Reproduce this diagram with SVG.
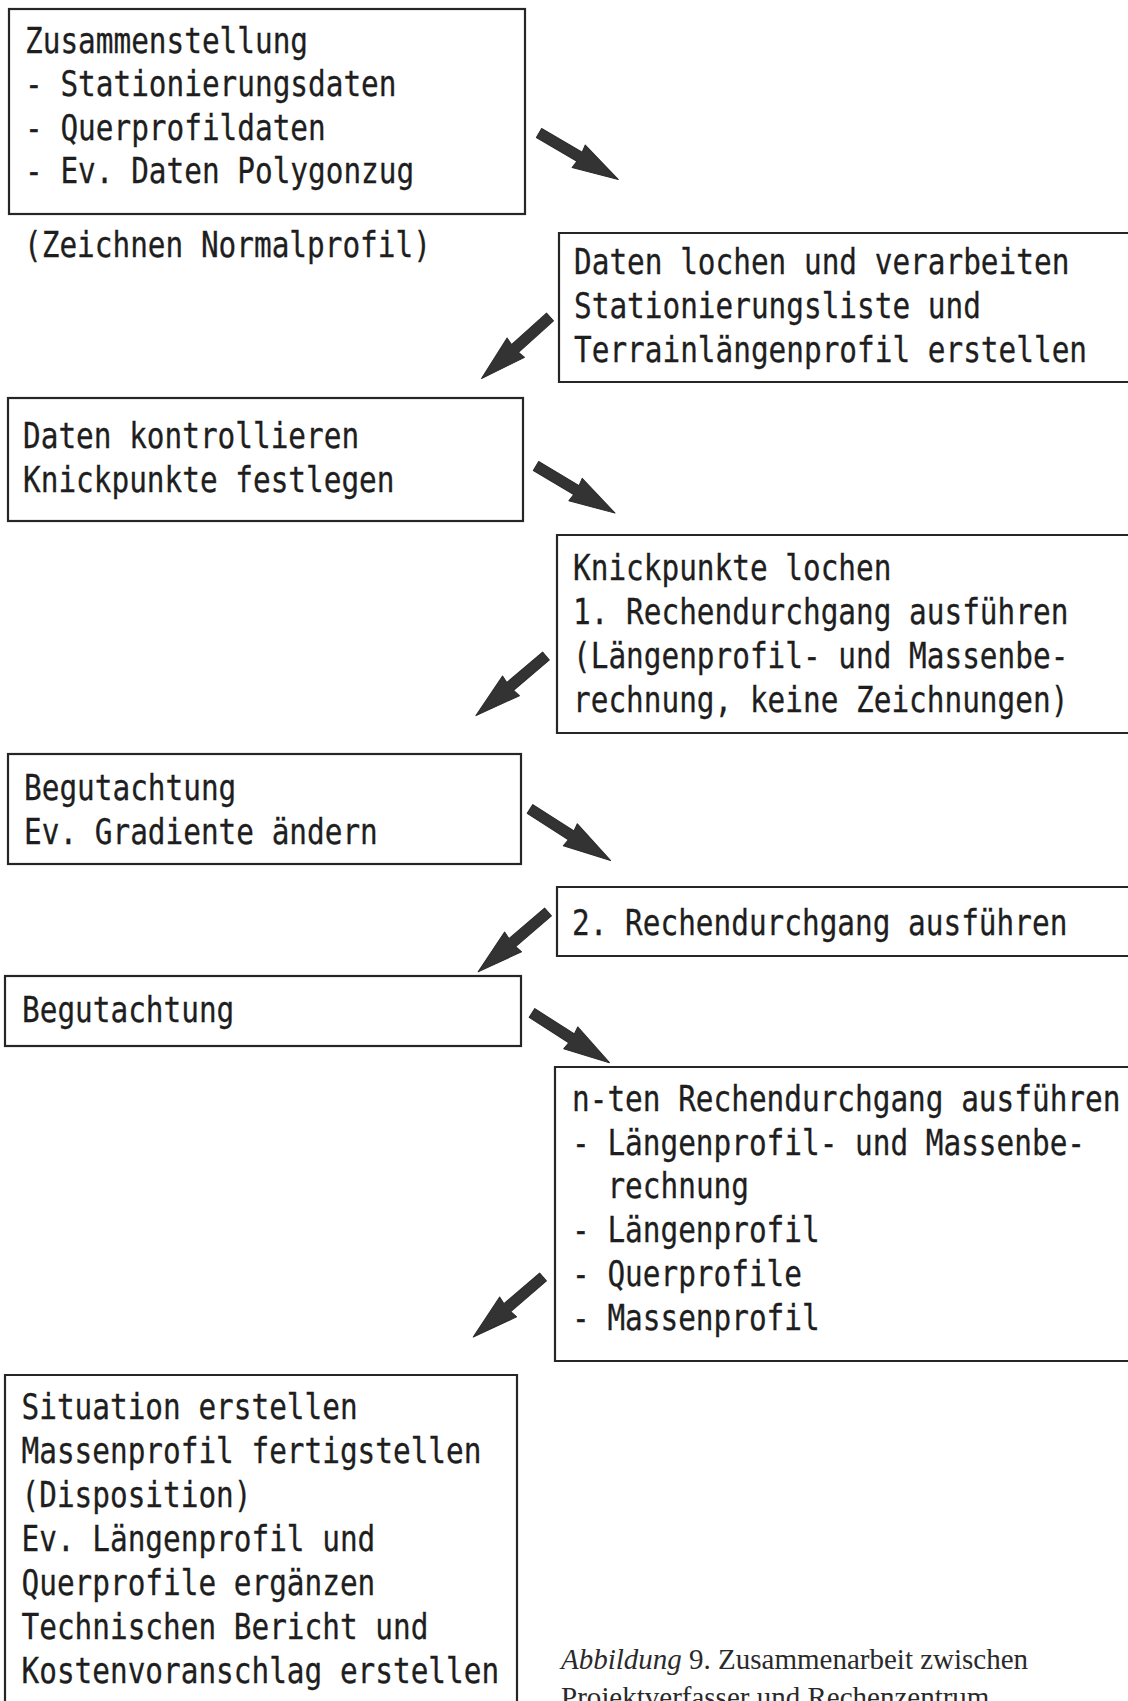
<svg xmlns="http://www.w3.org/2000/svg" width="1128" height="1701" viewBox="0 0 1128 1701">
<style>
  .box { fill: none; stroke: #262626; stroke-width: 2.2; }
  .t { font-family: "DejaVu Sans Mono", "Liberation Mono", monospace; font-size: 35.5px; fill: #1e1e1e; stroke: #1e1e1e; stroke-width: 0.3; }
  .cap { font-family: "Liberation Serif", "Times New Roman", serif; font-size: 29px; fill: #2a2a2a; }
  .arr { fill: #333333; stroke: #2a2a2a; stroke-width: 1; stroke-linejoin: round; }
</style>
<defs>
  <path id="arrow" class="arr" d="M0,-5.2 L47,-5.2 L46,-13 L92,0 L46,13 L47,5.2 L0,5.2 Z"/>
</defs>
<rect x="0" y="0" width="1128" height="1701" fill="#ffffff"/>

<g id="node1">
  <rect class="box" x="9" y="9" width="516" height="205"/>
  <g transform="translate(25,0) scale(0.828,1)">
    <text class="t" x="0" y="53">Zusammenstellung</text>
    <text class="t" x="0" y="96">- Stationierungsdaten</text>
    <text class="t" x="0" y="140">- Querprofildaten</text>
    <text class="t" x="0" y="183">- Ev. Daten Polygonzug</text>
  </g>
</g>
<g id="note1">
  <g transform="translate(24,0) scale(0.828,1)">
    <text class="t" x="0" y="257">(Zeichnen Normalprofil)</text>
  </g>
</g>

<g id="node2">
  <path class="box" d="M1128,233 H559 V382 H1128"/>
  <g transform="translate(574,0) scale(0.828,1)">
    <text class="t" x="0" y="274">Daten lochen und verarbeiten</text>
    <text class="t" x="0" y="318">Stationierungsliste und</text>
    <text class="t" x="0" y="362">Terrainlängenprofil erstellen</text>
  </g>
</g>

<g id="node3">
  <rect class="box" x="8" y="398" width="515" height="123"/>
  <g transform="translate(23,0) scale(0.828,1)">
    <text class="t" x="0" y="448">Daten kontrollieren</text>
    <text class="t" x="0" y="492">Knickpunkte festlegen</text>
  </g>
</g>

<g id="node4">
  <path class="box" d="M1128,535 H557 V733 H1128"/>
  <g transform="translate(573,0) scale(0.828,1)">
    <text class="t" x="0" y="580">Knickpunkte lochen</text>
    <text class="t" x="0" y="624">1. Rechendurchgang ausführen</text>
    <text class="t" x="0" y="668">(Längenprofil- und Massenbe-</text>
    <text class="t" x="0" y="712">rechnung, keine Zeichnungen)</text>
  </g>
</g>

<g id="node5">
  <rect class="box" x="8" y="754" width="513" height="110"/>
  <g transform="translate(24,0) scale(0.828,1)">
    <text class="t" x="0" y="800">Begutachtung</text>
    <text class="t" x="0" y="844">Ev. Gradiente ändern</text>
  </g>
</g>

<g id="node6">
  <path class="box" d="M1128,887 H557 V956 H1128"/>
  <g transform="translate(572,0) scale(0.828,1)">
    <text class="t" x="0" y="935">2. Rechendurchgang ausführen</text>
  </g>
</g>

<g id="node7">
  <rect class="box" x="5" y="976" width="516" height="70"/>
  <g transform="translate(22,0) scale(0.828,1)">
    <text class="t" x="0" y="1022">Begutachtung</text>
  </g>
</g>

<g id="node8">
  <path class="box" d="M1128,1067 H555 V1361 H1128"/>
  <g transform="translate(572,0) scale(0.828,1)">
    <text class="t" x="0" y="1111">n-ten Rechendurchgang ausführen</text>
    <text class="t" x="0" y="1155">- Längenprofil- und Massenbe-</text>
    <text class="t" x="42.8" y="1198">rechnung</text>
    <text class="t" x="0" y="1242">- Längenprofil</text>
    <text class="t" x="0" y="1286">- Querprofile</text>
    <text class="t" x="0" y="1330">- Massenprofil</text>
  </g>
</g>

<g id="node9">
  <path class="box" d="M5,1701 V1375 H517 V1701"/>
  <g transform="translate(21.5,0) scale(0.828,1)">
    <text class="t" x="0" y="1419">Situation erstellen</text>
    <text class="t" x="0" y="1463">Massenprofil fertigstellen</text>
    <text class="t" x="0" y="1507">(Disposition)</text>
    <text class="t" x="0" y="1551">Ev. Längenprofil und</text>
    <text class="t" x="0" y="1595">Querprofile ergänzen</text>
    <text class="t" x="0" y="1639">Technischen Bericht und</text>
    <text class="t" x="0" y="1683">Kostenvoranschlag erstellen</text>
  </g>
</g>

<g id="caption">
  <text class="cap" x="561" y="1669"><tspan font-style="italic">Abbildung</tspan> 9. Zusammenarbeit zwischen</text>
  <text class="cap" x="561" y="1707">Projektverfasser und Rechenzentrum</text>
</g>

<g id="connectors">
  <use href="#arrow" transform="translate(539,133) rotate(30.4)"/>
  <use href="#arrow" transform="translate(550,317) rotate(138.1)"/>
  <use href="#arrow" transform="translate(536,466) rotate(30.8)"/>
  <use href="#arrow" transform="translate(546,656) rotate(139.6)"/>
  <use href="#arrow" transform="translate(530,809) rotate(32.6) scale(1.04,1)"/>
  <use href="#arrow" transform="translate(548,912) rotate(139.4)"/>
  <use href="#arrow" transform="translate(532,1013) rotate(32.7)"/>
  <use href="#arrow" transform="translate(543,1277) rotate(139.3)"/>
</g>
</svg>
